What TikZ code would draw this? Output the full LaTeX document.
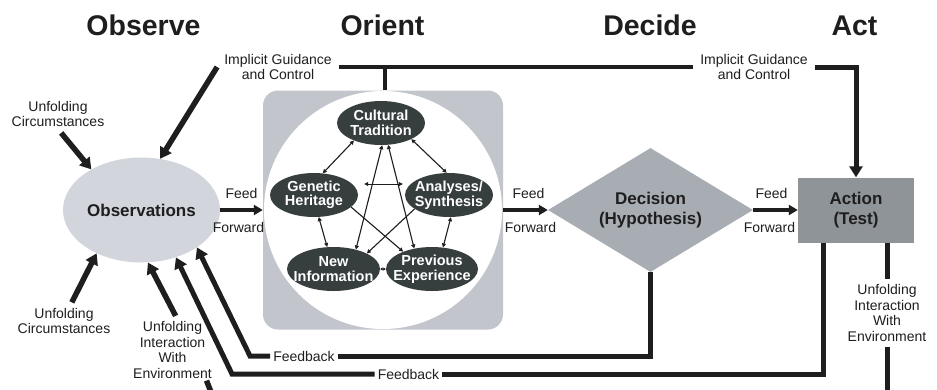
\documentclass[tikz,border=0pt]{standalone}
\usepackage{fontspec}
\setmainfont{Liberation Sans}
\usepackage{tikz}
\usetikzlibrary{shapes.geometric, arrows.meta}

\definecolor{ink}{HTML}{1E1E1E}
\definecolor{obsgray}{HTML}{D2D5DC}
\definecolor{orientgray}{HTML}{C2C6CC}
\definecolor{factorgray}{HTML}{373E3E}
\definecolor{decgray}{HTML}{A8ADB4}
\definecolor{actgray}{HTML}{8F9499}

\begin{document}
\begin{tikzpicture}[x=1pt, y=-1pt,
    title/.style={font=\fontsize{28.5}{30}\selectfont\bfseries, text=ink, anchor=base},
    lbl/.style={font=\fontsize{14}{15.5}\selectfont, text=ink, align=center, inner sep=2pt},
    ffl/.style={lbl, inner sep=0pt},
    factor/.style={ellipse, fill=factorgray, text=white, font=\fontsize{14.5}{14.5}\selectfont\bfseries, align=center, inner sep=-20pt, minimum height=44pt},
    bigtext/.style={font=\fontsize{17}{20.5}\selectfont\bfseries, text=ink, align=center},
    heavy/.style={draw=ink, line width=5pt},
    bigarrow/.style={heavy, line width=5.5pt, -{Triangle[length=11pt, width=13pt]}},
    feedarrow/.style={draw=ink, line width=3.5pt, -{Triangle[length=9pt, width=10pt]}},
    link/.style={draw=ink, line width=1.1pt, {Triangle[length=4pt, width=4pt]}-{Triangle[length=4pt, width=4pt]}},
    oneway/.style={draw=ink, line width=1.1pt, -{Triangle[length=4pt, width=4pt]}},
]
    \useasboundingbox (0,0) rectangle (937,389);
    \clip (0,0) rectangle (937,389);

    \node[title] (tobs) at (143.5,35) {Observe};
    \node[title] (tori) at (382.5,35) {Orient};
    \node[title] (tdec) at (650,35) {Decide};
    \node[title] (tact) at (854.5,35) {Act};

    \node[rectangle, rounded corners=15pt, fill=orientgray, minimum width=240pt, minimum height=239pt, inner sep=0pt] (orient) at (383,210) {};
    \node[circle, fill=white, minimum size=238pt, inner sep=0pt] (orientc) at (383,210) {};

    \node[factor, minimum width=88pt] (cult) at (381,123) {Cultural\\Tradition};
    \node[factor, minimum width=88pt] (gen) at (314,195) {Genetic\\Heritage};
    \node[factor, minimum width=88pt] (ana) at (449,195) {Analyses/\\Synthesis};
    \node[factor, minimum width=93pt] (new) at (333.5,269) {New\\Information};
    \node[factor, minimum width=92pt] (prev) at (432,269) {Previous\\Experience};

    \node[ellipse, fill=obsgray, minimum width=157pt, minimum height=105pt, inner sep=-20pt, bigtext] (obs) at (141.5,210) {Observations};
    \node[diamond, fill=decgray, aspect=1.65, minimum width=205pt, minimum height=124pt, inner sep=0pt, bigtext] (dec) at (650.5,210) {Decision\\(Hypothesis)};
    \node[rectangle, fill=actgray, minimum width=116pt, minimum height=65pt, bigtext] (action) at (856,210) {Action\\(Test)};

    \node[lbl, inner xsep=7pt] (igl) at (278,67) {Implicit Guidance\\and Control};
    \node[lbl, inner xsep=7pt] (igr) at (754,67) {Implicit Guidance\\and Control};
    \node[lbl] (uc1) at (58,114) {Unfolding\\Circumstances};
    \node[lbl] (uc2) at (64,321) {Unfolding\\Circumstances};
    \node[lbl] (uie1) at (172.5,350) {Unfolding\\Interaction\\With\\Environment};
    \node[lbl, inner ysep=5pt] (uie2) at (887,313) {Unfolding\\Interaction\\With\\Environment};
    \node[lbl, inner xsep=3pt] (fb1) at (304,356) {Feedback};
    \node[lbl, inner xsep=3pt] (fb2) at (408.5,374) {Feedback};

    \draw[link] (cult.213) -- (gen.68);
    \draw[link] (cult.-28) -- (ana.96);
    \draw[link, line width=0.8pt, shorten <=6pt, shorten >=2pt] ([yshift=11pt]gen.east) -- ([yshift=11pt]ana.west);
    \draw[link] (gen.-78) -- (new.106);
    \draw[link] (ana.-85) -- (prev.63);
    \draw[draw=ink, line width=0.8pt, {Triangle[length=2.5pt, width=3pt]}-{Triangle[length=2.5pt, width=3pt]}] (new.east) -- (prev.west);
    \draw[link] (new.41) -- (cult.-87);
    \draw[link] (prev.131) -- (cult.-72);
    \draw[oneway] (gen.-18) -- (prev.149);
    \draw[oneway] (ana.202) -- (new.25);

    \draw[feedarrow] (obs.east) -- (orient.west) node[ffl, midway, above=10pt] (ff1a) {Feed} node[ffl, midway, below=11pt, xshift=-3pt] (ff1b) {Forward};
    \draw[feedarrow] (orient.east) -- (dec.west) node[ffl, midway, above=10pt, xshift=3pt] (ff2a) {Feed} node[ffl, midway, below=11pt, xshift=5pt] (ff2b) {Forward};
    \draw[feedarrow] (dec.east) -- (action.west) node[ffl, midway, above=10pt, xshift=-4pt] (ff3a) {Feed} node[ffl, midway, below=11pt, xshift=-6pt] (ff3b) {Forward};

    \draw[heavy, line width=4.5pt] (igl.east) -- (igr.west);
    \draw[heavy, line width=4.5pt] ([xshift=2pt]orient.north |- igl.east) -- ([xshift=2pt]orient.north);
    \draw[bigarrow, line width=5pt] (igr.east) -| (action.north);

    \draw[bigarrow, shorten <=5pt] (uc1.south) -- (obs.141);
    \draw[bigarrow, shorten <=4pt] ([xshift=6pt]uc2.north) -- (obs.224);
    \draw[bigarrow] (igl.west) -- (obs.70);
    \draw[bigarrow, shorten <=4pt] ([xshift=5pt]uie1.north) -- (obs.-83);
    \coordinate (envL) at (211,392);
    \draw[heavy, line width=5.5pt] ([xshift=34pt]uie1.south) -- (envL);

    \draw[heavy] (action.south -| uie2) -- (uie2.north);
    \coordinate (envR) at (887,392);
    \draw[heavy] (uie2.south) -- (envR);

    \coordinate (fb1k) at (250,356);
    \draw[heavy] (dec.south) |- (fb1.east);
    \draw[heavy, -{Triangle[length=11pt, width=13pt]}] (fb1.west) -- (fb1k) -- (obs.-34);
    \coordinate (fb2k) at (232,374);
    \draw[heavy] ([xshift=-33pt]action.south) |- (fb2.east);
    \draw[heavy, -{Triangle[length=11pt, width=13pt]}] (fb2.west) -- (fb2k) -- (obs.-54);
\end{tikzpicture}
\end{document}
